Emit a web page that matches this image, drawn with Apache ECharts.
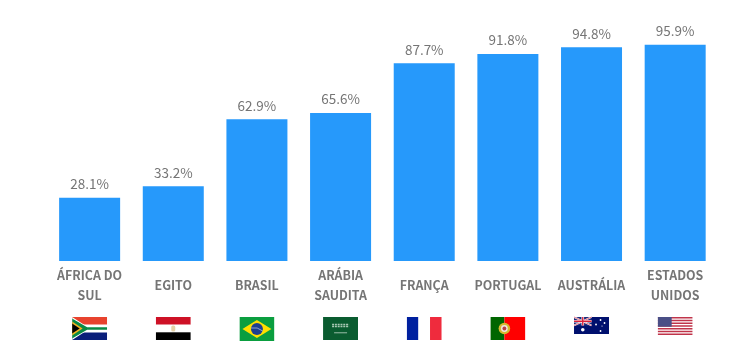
<!DOCTYPE html>
<html>
<head>
<meta charset="utf-8">
<script src="https://cdn.jsdelivr.net/npm/echarts@6/dist/echarts.min.js"></script>
<style>
html,body{margin:0;padding:0;background:#fff;}
#main{width:733px;height:364px;}
</style>
</head>
<body>
<div id="main"></div>
<script>
var paises = ['ÁFRICA DO\nSUL','EGITO','BRASIL','ARÁBIA\nSAUDITA','FRANÇA','PORTUGAL','AUSTRÁLIA','ESTADOS\nUNIDOS'];
var valores = [28.1,33.2,62.9,65.6,87.7,91.8,94.8,95.9];
var bandeirasIds = ['za','eg','br','sa','fr','pt','au','us'];

// desenho das bandeiras (35 de largura, 12 de folga em cima)
var bandeiras = {
	za:'<rect width="35" height="23" fill="#fff"/><rect width="35" height="7.5" fill="#e8432e"/><rect y="15.5" width="35" height="7.5" fill="#0a1f7a"/><path d="M0 0L14 9H35V14H14L0 23Z" fill="#fff"/><path d="M0 1.5L15 10.3H35V12.7H15L0 21.5Z" fill="#0a8a45"/><path d="M0 4.5L10.5 11.5L0 18.5Z" fill="#f2b120"/><path d="M0 6.5L7.6 11.5L0 16.5Z" fill="#000"/>',
	eg:'<rect width="35" height="7.7" fill="#ce1126"/><rect y="7.7" width="35" height="7.6" fill="#fff"/><rect y="15.3" width="35" height="7.7" fill="#000"/><rect x="15.5" y="8.5" width="4" height="6" rx="1.5" fill="#e6d2a8"/>',
	br:'<rect width="35" height="24" fill="#0a9e3f"/><path d="M17.5 3L32 12L17.5 21L3 12Z" fill="#fedf00"/><circle cx="17.5" cy="12" r="6" fill="#1d3f8f"/><path d="M11.6 11Q18 9.5 23.3 14" stroke="#dfe6f2" stroke-width="0.6" fill="none"/>',
	sa:'<rect width="35" height="23" fill="#0a5c30"/><path d="M9 7.5H26M9 9.5H26" stroke="#a9c8b4" stroke-width="1.6" stroke-dasharray="2 0.8"/><rect x="11" y="15.5" width="13" height="0.7" fill="#d5e5da"/>',
	fr:'<rect width="11.7" height="23" fill="#00209f"/><rect x="11.7" width="11.6" height="23" fill="#fff"/><rect x="23.3" width="11.7" height="23" fill="#ef2b3d"/>',
	pt:'<rect width="14" height="23" fill="#006600"/><rect x="14" width="21" height="23" fill="#ff0000"/><circle cx="14" cy="11.5" r="5.8" fill="#d8b830"/><circle cx="14" cy="11.5" r="3.4" fill="#f0e8e0"/><circle cx="14" cy="11.5" r="1.9" fill="#b8404a"/>',
	au:'<rect width="35" height="17" fill="#00106e"/><rect width="17.5" height="8.5" fill="#1a2a7a"/><path d="M0 0L17.5 8.5M17.5 0L0 8.5" stroke="#fff" stroke-width="1.6"/><path d="M0 0L17.5 8.5M17.5 0L0 8.5" stroke="#d8203a" stroke-width="0.6"/><path d="M8.75 0V8.5M0 4.25H17.5" stroke="#fff" stroke-width="2.6"/><path d="M8.75 0V8.5M0 4.25H17.5" stroke="#d8203a" stroke-width="1.4"/><circle cx="8.75" cy="12.8" r="1.8" fill="#fff"/><circle cx="26.5" cy="3" r="0.9" fill="#fff"/><circle cx="26.5" cy="14" r="0.9" fill="#fff"/><circle cx="22" cy="7.5" r="0.9" fill="#fff"/><circle cx="30.5" cy="6" r="0.9" fill="#fff"/><circle cx="28" cy="9" r="0.6" fill="#fff"/>',
	us:'<rect width="35" height="18" fill="#fff"/><path d="M0 0.7H35M0 3.5H35M0 6.2H35M0 9H35M0 11.7H35M0 14.5H35M0 17.3H35" stroke="#c0344a" stroke-width="1.4"/><rect width="14" height="9.7" fill="#4a4f86"/>'
};

function flagUri(id){
	var svg = '<svg xmlns="http://www.w3.org/2000/svg" width="35" height="36" viewBox="0 0 35 36"><g transform="translate(0,12)">' + bandeiras[id] + '</g></svg>';
	return 'data:image/svg+xml;charset=utf-8,' + encodeURIComponent(svg);
}

var rich = {
	t:{fontFamily:'"Noto Sans CJK SC"',fontSize:12.4,fontWeight:'bold',color:'#757575',lineHeight:20,align:'center'},
	u:{fontFamily:'"Noto Sans CJK SC"',fontSize:12.4,fontWeight:'bold',color:'#757575',lineHeight:40,align:'center'}
};
for(var i=0;i<bandeirasIds.length;i++){
	rich[bandeirasIds[i]] = {width:35,height:36,lineHeight:36,align:'center',backgroundColor:{image:flagUri(bandeirasIds[i])}};
}

function formatEixo(value,index){
	var linhas = value.split('\n');
	var txt = '';
	if(linhas.length>1){
		txt = '{t|' + linhas[0] + '}\n{t|' + linhas[1] + '}';
	}else{
		txt = '{u|' + value + '}';
	}
	return txt + '\n{' + bandeirasIds[index] + '|}';
}

var myChart = echarts.init(document.getElementById('main'),null,{renderer:'canvas'});
var option = {
	animation:false,
	backgroundColor:'#fff',
	grid:{left:47.8,right:16,top:35.5,bottom:103},
	xAxis:{
		type:'category',
		data:paises,
		axisLine:{show:false},
		axisTick:{show:false},
		axisLabel:{interval:0,margin:4,verticalAlign:'top',formatter:formatEixo,rich:rich}
	},
	yAxis:{type:'value',min:0,max:100,show:false,splitLine:{show:false}},
	series:[{
		type:'bar',
		data:valores,
		barWidth:61,
		itemStyle:{color:'#2699fb'},
		label:{
			show:true,
			position:'top',
			distance:7,
			fontFamily:'"Noto Sans CJK SC"',
			fontSize:13.5,
			color:'#757575',
			formatter:function(p){return p.value.toFixed(1)+'%';}
		}
	}]
};
myChart.setOption(option);
</script>
</body>
</html>
